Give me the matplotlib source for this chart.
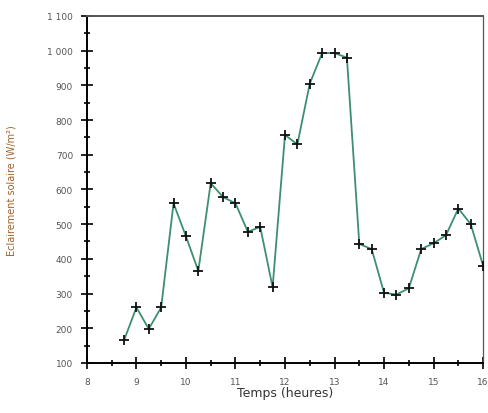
import matplotlib
matplotlib.use("Agg")
import matplotlib.pyplot as plt
from matplotlib.ticker import MultipleLocator, FuncFormatter

heures = [8.75, 9, 9.25, 9.5, 9.75, 10, 10.25, 10.5, 10.75, 11, 11.25, 11.5, 11.75,
          12, 12.25, 12.5, 12.75, 13, 13.25, 13.5, 13.75, 14, 14.25, 14.5, 14.75,
          15, 15.25, 15.5, 15.75, 16]
eclairement = [165, 260, 198, 260, 560, 465, 365, 618, 578, 560, 478, 492, 318,
               757, 730, 905, 993, 993, 980, 443, 428, 302, 297, 315, 428,
               445, 468, 545, 500, 380]

fig = plt.figure(figsize=(4.88, 4.14), dpi=100)
ax = fig.add_axes([0.178, 0.121, 0.812, 0.838])

ax.plot(heures, eclairement, color='#3d8f6e', lw=1.3, marker='+', ms=7,
        mew=1.3, mec='#111111', zorder=3)

ax.set_xlim(8, 16)
ax.set_ylim(100, 1100)
ax.xaxis.set_major_locator(MultipleLocator(1))
ax.xaxis.set_minor_locator(MultipleLocator(0.5))
ax.yaxis.set_major_locator(MultipleLocator(100))
ax.yaxis.set_minor_locator(MultipleLocator(50))
ax.yaxis.set_major_formatter(FuncFormatter(lambda v, p: f"{int(v):,}".replace(",", " ")))

ax.tick_params(which='major', direction='inout', length=8, width=1.2,
               labelsize=6.5, labelcolor='#555555', pad=6, top=False, right=False)
ax.tick_params(which='minor', direction='inout', length=4, width=1.2,
               top=False, right=False)
ax.spines['left'].set_linewidth(1.4)
ax.spines['bottom'].set_linewidth(1.4)
ax.spines['top'].set_linewidth(1.4)
ax.spines['top'].set_color('#555555')
ax.spines['right'].set_linewidth(0.9)
ax.spines['right'].set_color('#555555')

ax.set_xlabel('Temps (heures)', fontsize=9, color='#333333', labelpad=0)
ax.set_ylabel('Eclairement solaire (W/m²)', fontsize=7, color='#a0622a', labelpad=22)

fig.savefig('out.png', dpi=100)
